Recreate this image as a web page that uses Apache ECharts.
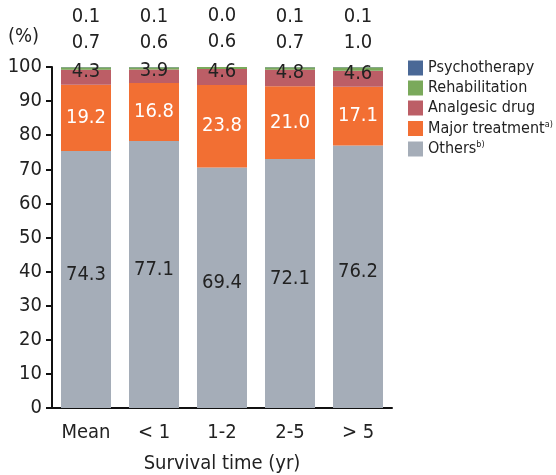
<!DOCTYPE html>
<html><head><meta charset="utf-8">
<script src="https://cdn.jsdelivr.net/npm/echarts@6/dist/echarts.min.js"></script>
<style>html,body{margin:0;padding:0;background:#fff}#c{width:556px;height:475px}</style>
</head><body><div id="c"></div>
<script>
const categories = ['Mean', '< 1', '1-2', '2-5', '> 5'];
const others = [74.3, 77.1, 69.4, 72.1, 76.2];
const major = [19.2, 16.8, 23.8, 21.0, 17.1];
const analgesic = [4.3, 3.9, 4.6, 4.8, 4.6];
const rehab = [0.7, 0.6, 0.6, 0.7, 1.0];
const psycho = [0.1, 0.1, 0.0, 0.1, 0.1];
const yTicks = [0, 10, 20, 30, 40, 50, 60, 70, 80, 90, 100];

const FONT = "'Liberation Sans Narrow', 'DejaVu Sans Condensed', 'Roboto', sans-serif";
const totals = categories.map((_, i) => others[i] + major[i] + analgesic[i] + rehab[i] + psycho[i]);
const norm = arr => arr.map((v, i) => v / totals[i] * 100);
const fmt = arr => p => arr[p.dataIndex].toFixed(1);

function mk(name, arr, color, label) {
  return {
    name, type: 'bar', stack: 'a', barWidth: 50,
    data: norm(arr),
    itemStyle: { color },
    label: Object.assign({ show: true, formatter: fmt(arr), fontFamily: FONT, fontSize: 20, color: '#222' }, label || {}),
    emphasis: { disabled: true }
  };
}

const chart = echarts.init(document.getElementById('c'), null, { renderer: 'canvas' });
chart.setOption({
  animation: false,
  textStyle: { fontFamily: FONT },
  grid: { left: 52, right: 164, top: 67, bottom: 67, containLabel: false, outerBoundsMode: 'none' },
  legend: {
    orient: 'vertical', left: 403, top: 55, itemWidth: 15, itemHeight: 15, itemGap: 4,
    icon: 'rect',
    textStyle: { fontFamily: FONT, fontSize: 16, color: '#222',
      rich: { s: { fontFamily: FONT, fontSize: 9, color: '#222', padding: [0, 0, 8, 0] } } },
    data: ['Psychotherapy', 'Rehabilitation', 'Analgesic drug', 'Major treatment', 'Others'],
    formatter: n => n === 'Major treatment' ? n + '{s|a)}' : n === 'Others' ? n + '{s|b)}' : n,
    selectedMode: false
  },
  xAxis: {
    type: 'category', data: categories,
    name: 'Survival time (yr)', nameLocation: 'middle', nameGap: 46,
    nameTextStyle: { fontFamily: FONT, fontSize: 20, color: '#222' },
    axisLine: { lineStyle: { color: '#111', width: 2 } },
    axisTick: { show: false },
    axisLabel: { fontFamily: FONT, fontSize: 20, color: '#222', margin: 15 }
  },
  yAxis: {
    type: 'value', min: 0, max: 100, interval: 10,
    axisLine: { show: true, lineStyle: { color: '#111', width: 2 } },
    axisTick: { show: true, length: 6, lineStyle: { color: '#111', width: 2 } },
    splitLine: { show: false },
    axisLabel: { fontFamily: FONT, fontSize: 20, color: '#222', margin: 10,
      formatter: v => yTicks.includes(v) ? String(v) : '' }
  },
  graphic: [{ type: 'text', left: 8, top: 27, style: { text: '(%)', font: '20px ' + FONT, fill: '#222' } }],
  series: [
    mk('Others', others, '#a5adb8', { position: 'inside', offset: [0, -5] }),
    mk('Major treatment', major, '#f26f33', { position: 'inside', color: '#fff' }),
    mk('Analgesic drug', analgesic, '#bc5e66', { position: 'inside', offset: [0, -5] }),
    mk('Rehabilitation', rehab, '#7aa95b', {
      position: 'top', distance: 12, lineHeight: 26,
      formatter: p => psycho[p.dataIndex].toFixed(1) + '\n' + rehab[p.dataIndex].toFixed(1)
    }),
    mk('Psychotherapy', psycho, '#4a6896', { show: false })
  ]
});
</script></body></html>
